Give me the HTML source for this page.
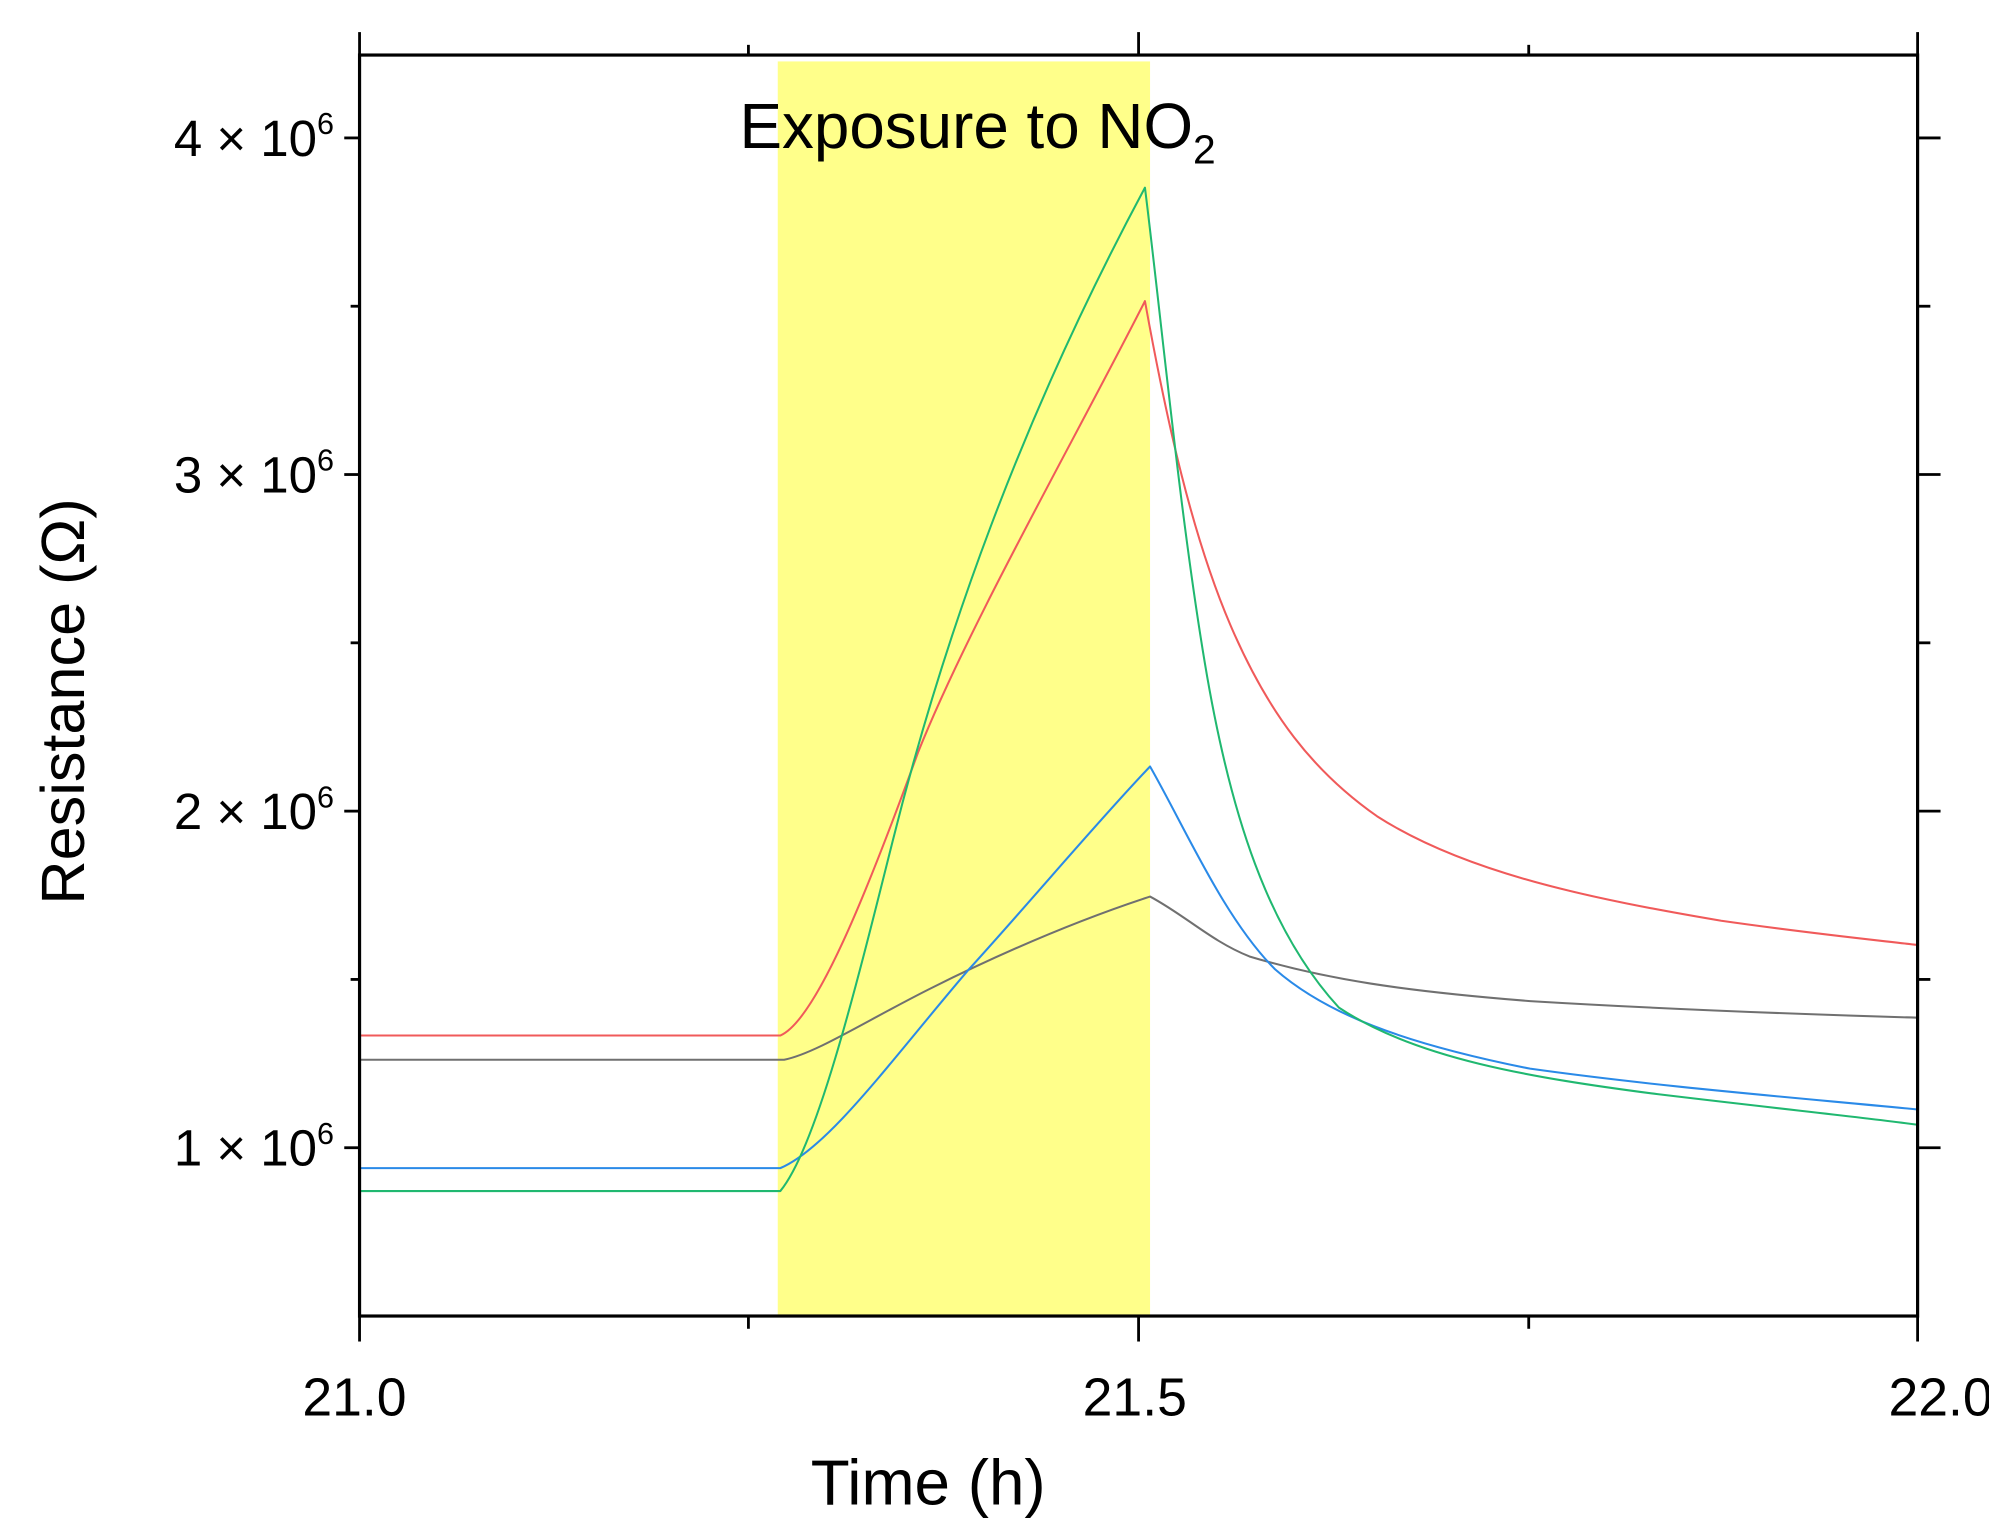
<!DOCTYPE html>
<html><head><meta charset="utf-8"><style>html,body{margin:0;padding:0;background:#fff}svg{display:block}</style></head>
<body>
<svg width="1989" height="1533" viewBox="0 0 1560 1202" xmlns="http://www.w3.org/2000/svg" font-family="'Liberation Sans Narrow', 'Liberation Sans', sans-serif">
<rect x="0" y="0" width="1560" height="1202" fill="#fff"/>
<rect x="610" y="48" width="292" height="984" fill="#ffff8a"/>
<g fill="none" stroke-width="1.6" stroke-linejoin="round">
<path stroke="#707070" d="M282,831 L615,831 C640,826 680,800 730,775 C790,745 850,720 902,703 C930,718 950,738 980,750 C1040,768 1100,777 1200,785 C1300,791 1400,795 1504,798"/>
<path stroke="#f05a5a" d="M282,812 L612,812 C640,800 680,700 720,590 C760,490 840,350 898,236 C915,330 935,420 965,490 C995,560 1030,605 1080,640 C1150,685 1250,705 1350,722 C1420,732 1470,737 1504,741"/>
<path stroke="#2a8ae8" d="M282,916 L612,916 C650,900 700,830 760,760 C810,705 860,645 902,601 C930,650 960,720 1000,760 C1040,795 1100,818 1200,838 C1300,852 1400,860 1504,870"/>
<path stroke="#20b870" d="M282,934 L612,934 C640,900 670,780 700,660 C740,500 800,330 898,147 C912,260 925,400 945,520 C965,640 995,730 1050,790 C1110,830 1200,845 1300,858 C1400,870 1460,876 1504,882"/>
</g>
<g stroke="#000" stroke-width="2.5" fill="none">
<rect x="282" y="43" width="1222" height="989"/>
</g>
<g stroke="#000" stroke-width="2.2">
<line x1="270" y1="108" x2="282" y2="108"/><line x1="270" y1="372" x2="282" y2="372"/><line x1="270" y1="636" x2="282" y2="636"/><line x1="270" y1="900" x2="282" y2="900"/>
<line x1="275" y1="240" x2="282" y2="240"/><line x1="275" y1="504" x2="282" y2="504"/><line x1="275" y1="768" x2="282" y2="768"/>
<line x1="1504" y1="108" x2="1522" y2="108"/><line x1="1504" y1="372" x2="1522" y2="372"/><line x1="1504" y1="636" x2="1522" y2="636"/><line x1="1504" y1="900" x2="1522" y2="900"/>
<line x1="1504" y1="240" x2="1514" y2="240"/><line x1="1504" y1="504" x2="1514" y2="504"/><line x1="1504" y1="768" x2="1514" y2="768"/>
<line x1="282" y1="1032" x2="282" y2="1052"/><line x1="893" y1="1032" x2="893" y2="1052"/><line x1="1504" y1="1032" x2="1504" y2="1052"/>
<line x1="587" y1="1032" x2="587" y2="1042"/><line x1="1199" y1="1032" x2="1199" y2="1042"/>
<line x1="282" y1="25" x2="282" y2="43"/><line x1="893" y1="25" x2="893" y2="43"/><line x1="1504" y1="25" x2="1504" y2="43"/>
<line x1="587" y1="35" x2="587" y2="43"/><line x1="1199" y1="35" x2="1199" y2="43"/>
</g>
<g font-size="40" fill="#000" text-anchor="end">
<text x="262" y="122">4 × 10<tspan font-size="24" dy="-17">6</tspan></text>
<text x="262" y="386">3 × 10<tspan font-size="24" dy="-17">6</tspan></text>
<text x="262" y="650">2 × 10<tspan font-size="24" dy="-17">6</tspan></text>
<text x="262" y="914">1 × 10<tspan font-size="24" dy="-17">6</tspan></text>
</g>
<g font-size="42" fill="#000" text-anchor="middle">
<text x="278" y="1110">21.0</text>
<text x="890" y="1110">21.5</text>
<text x="1522" y="1110">22.0</text>
<text x="728" y="1180" font-size="50">Time (h)</text>
</g>
<text x="580" y="116" font-size="50" fill="#000">Exposure to NO<tspan font-size="32" dy="12">2</tspan></text>
<text transform="translate(66,550) rotate(-90)" font-size="48" fill="#000" text-anchor="middle">Resistance (Ω)</text>
</svg>
</body></html>
